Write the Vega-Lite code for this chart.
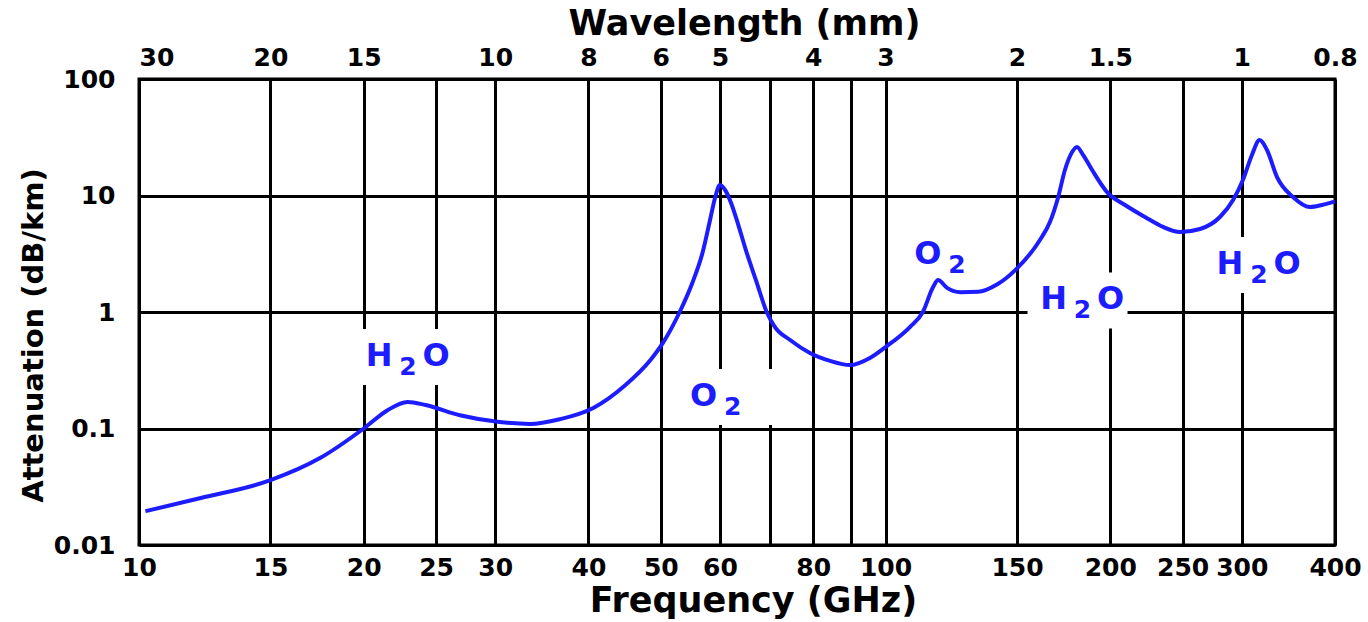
{
  "$schema": "https://vega.github.io/schema/vega-lite/v6.json",
  "width": 1196,
  "height": 466,
  "autosize": {"type": "none"},
  "padding": {"left": 139, "top": 79, "right": 33, "bottom": 77},
  "background": "white",
  "config": {
    "view": {"stroke": "black", "strokeWidth": 3},
    "font": "DejaVu Sans"
  },
  "datasets": {
    "curve": [
      {"f": 10.2, "a": 0.0195},
      {"f": 12.1, "a": 0.0253},
      {"f": 15.0, "a": 0.036},
      {"f": 17.5, "a": 0.056},
      {"f": 20.0, "a": 0.1},
      {"f": 21.5, "a": 0.143},
      {"f": 22.9, "a": 0.169},
      {"f": 24.2, "a": 0.159},
      {"f": 26.9, "a": 0.13},
      {"f": 30.4, "a": 0.1137},
      {"f": 33.4, "a": 0.1093},
      {"f": 36.6, "a": 0.12},
      {"f": 40.6, "a": 0.15},
      {"f": 44.8, "a": 0.235},
      {"f": 48.4, "a": 0.385},
      {"f": 50.3, "a": 0.54},
      {"f": 53.0, "a": 1.0},
      {"f": 55.1, "a": 1.774},
      {"f": 56.9, "a": 3.27},
      {"f": 58.2, "a": 6.16},
      {"f": 59.1, "a": 9.52},
      {"f": 60.0, "a": 12.3},
      {"f": 61.1, "a": 10.9},
      {"f": 62.1, "a": 8.63},
      {"f": 63.45, "a": 5.69},
      {"f": 65.0, "a": 3.4},
      {"f": 67.1, "a": 1.85},
      {"f": 69.4, "a": 0.98},
      {"f": 71.1, "a": 0.743},
      {"f": 74.5, "a": 0.575},
      {"f": 79.2, "a": 0.445},
      {"f": 84.3, "a": 0.38},
      {"f": 89.6, "a": 0.35},
      {"f": 95.3, "a": 0.403},
      {"f": 100, "a": 0.5},
      {"f": 107.8, "a": 0.743},
      {"f": 112.2, "a": 1.0},
      {"f": 115.8, "a": 1.64},
      {"f": 117.6, "a": 1.88},
      {"f": 120.9, "a": 1.61},
      {"f": 126, "a": 1.48},
      {"f": 133, "a": 1.49},
      {"f": 141, "a": 1.72},
      {"f": 149.3, "a": 2.3},
      {"f": 161, "a": 4.15},
      {"f": 166.1, "a": 5.94},
      {"f": 170.2, "a": 9.52},
      {"f": 173.9, "a": 16.55},
      {"f": 177.8, "a": 23.6},
      {"f": 180.5, "a": 26.1},
      {"f": 183.9, "a": 22.3},
      {"f": 189.1, "a": 16.55},
      {"f": 198, "a": 10.7},
      {"f": 209.3, "a": 8.29},
      {"f": 222.6, "a": 6.54},
      {"f": 235.3, "a": 5.37},
      {"f": 248, "a": 4.86},
      {"f": 263.8, "a": 5.16},
      {"f": 280.5, "a": 6.54},
      {"f": 292.1, "a": 9.15},
      {"f": 301.1, "a": 13.6},
      {"f": 309.6, "a": 22.3},
      {"f": 317, "a": 29.9},
      {"f": 324.3, "a": 24.6},
      {"f": 334.5, "a": 14.4},
      {"f": 351.4, "a": 9.7},
      {"f": 370.3, "a": 7.96},
      {"f": 384.2, "a": 8.29},
      {"f": 400, "a": 8.9}
    ],
    "labels": [
      {"f": 22.93, "a": 0.351, "left": "H", "sub": "2", "right": "O"},
      {"f": 62.4, "a": 0.159, "left": "O", "sub": "2", "right": ""},
      {"f": 124.6, "a": 2.63, "left": "O", "sub": "2", "right": ""},
      {"f": 183.6, "a": 1.072, "left": "H", "sub": "2", "right": "O"},
      {"f": 316.4, "a": 2.16, "left": "H", "sub": "2", "right": "O"}
    ]
  },
  "encoding": {
    "y": {
      "field": "a",
      "type": "quantitative",
      "scale": {"type": "log", "domain": [0.01, 100], "nice": false},
      "axis": {
        "values": [0.01, 0.1, 1, 10, 100],
        "format": "~g",
        "grid": true,
        "gridColor": "black",
        "gridWidth": 3,
        "gridOpacity": 1,
        "domain": false,
        "ticks": false,
        "labelOverlap": false,
        "labelFlush": false,
        "labelFontSize": 25,
        "labelFontWeight": "bold",
        "labelColor": "black",
        "labelPadding": 24,
        "title": "Attenuation (dB/km)",
        "titleFontSize": 29,
        "titleFontWeight": "bold",
        "titleColor": "black",
        "titlePadding": 5,
        "titleY": 256
      }
    }
  },
  "resolve": {"axis": {"x": "independent"}},
  "layer": [
    {
      "data": {"name": "labels"},
      "mark": {
        "type": "point",
        "shape": "M-1.1,-0.72H0.9V0.4H-1.1Z",
        "size": 10000,
        "filled": true,
        "color": "white",
        "opacity": 1,
        "strokeWidth": 0
      },
      "encoding": {
        "x": {
          "field": "f",
          "type": "quantitative",
          "scale": {"type": "log", "domain": [10, 400], "nice": false},
          "axis": {
            "orient": "top",
            "values": [10, 15, 20, 30, 40, 50, 60, 80, 100, 150, 200, 300, 400],
            "labelExpr": "{'10':'30','15':'20','20':'15','30':'10','40':'8','50':'6','60':'5','80':'4','100':'3','150':'2','200':'1.5','300':'1','400':'0.8'}[datum.value]",
            "grid": false,
            "domain": false,
            "ticks": false,
            "labelOverlap": false,
            "labelFlush": false,
            "labelAlign": {"condition": {"test": "datum.value <= 10", "value": "left"}, "value": "center"},
            "labelFontSize": 25,
            "labelFontWeight": "bold",
            "labelColor": "black",
            "labelPadding": 9,
            "title": "Wavelength (mm)",
            "titleFontSize": 35,
            "titleFontWeight": "bold",
            "titleColor": "black",
            "titlePadding": 4,
            "titleX": 605
          }
        }
      }
    },
    {
      "data": {"name": "curve"},
      "mark": {"type": "line", "interpolate": "monotone", "color": "#1c1cff", "strokeWidth": 4},
      "encoding": {
        "x": {
          "field": "f",
          "type": "quantitative",
          "scale": {"type": "log", "domain": [10, 400], "nice": false},
          "axis": {
            "orient": "bottom",
            "values": [10, 15, 20, 25, 30, 40, 50, 60, 70, 80, 90, 100, 150, 200, 250, 300, 400],
            "labelExpr": "(datum.value == 70 || datum.value == 90) ? '' : format(datum.value, 'd')",
            "grid": true,
            "gridColor": "black",
            "gridWidth": 3,
            "gridOpacity": 1,
            "domain": false,
            "ticks": false,
            "labelOverlap": false,
            "labelFlush": false,
            "labelFontSize": 25,
            "labelFontWeight": "bold",
            "labelColor": "black",
            "labelPadding": 10,
            "title": "Frequency (GHz)",
            "titleFontSize": 35,
            "titleFontWeight": "bold",
            "titleColor": "black",
            "titlePadding": 3,
            "titleX": 614
          }
        }
      }
    },
    {
      "data": {"name": "labels"},
      "mark": {"type": "text", "align": "center", "baseline": "middle", "dx": -29, "dy": -9, "fontSize": 32, "fontWeight": "bold", "font": "DejaVu Sans", "color": "#1c1cff"},
      "encoding": {
        "x": {"field": "f", "type": "quantitative", "scale": {"type": "log", "domain": [10, 400], "nice": false}, "axis": null},
        "text": {"field": "left"}
      }
    },
    {
      "data": {"name": "labels"},
      "mark": {"type": "text", "align": "center", "baseline": "middle", "dx": 0, "dy": 2, "fontSize": 25, "fontWeight": "bold", "font": "DejaVu Sans", "color": "#1c1cff"},
      "encoding": {
        "x": {"field": "f", "type": "quantitative", "scale": {"type": "log", "domain": [10, 400], "nice": false}, "axis": null},
        "text": {"field": "sub"}
      }
    },
    {
      "data": {"name": "labels"},
      "mark": {"type": "text", "align": "center", "baseline": "middle", "dx": 28, "dy": -9, "fontSize": 32, "fontWeight": "bold", "font": "DejaVu Sans", "color": "#1c1cff"},
      "encoding": {
        "x": {"field": "f", "type": "quantitative", "scale": {"type": "log", "domain": [10, 400], "nice": false}, "axis": null},
        "text": {"field": "right"}
      }
    }
  ]
}
